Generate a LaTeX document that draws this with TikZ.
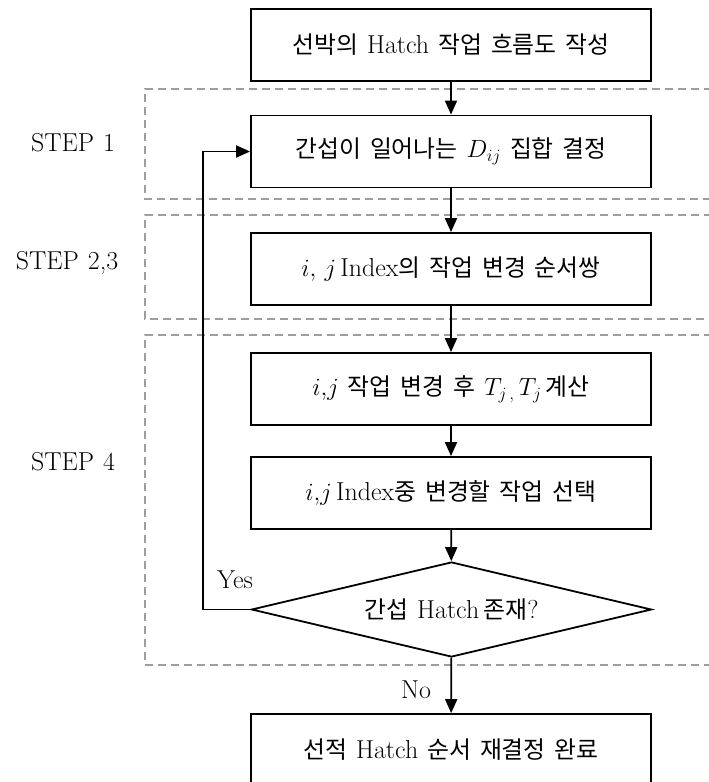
\documentclass[tikz,border=0pt]{standalone}
\usepackage{fontspec}
\newfontfamily\hangul{Noto Sans CJK KR}[Scale=0.92]
\usetikzlibrary{arrows.meta,shapes.geometric}
% wider word spacing for the labels
\newcommand{\widegaps}{\spaceskip 9bp plus 0bp\relax}

\begin{document}
\begin{tikzpicture}[x=1bp,y=-1bp,
  txt/.style={font=\fontsize{26}{30}\selectfont\widegaps},
  stepbox/.style={txt, draw, line width=1.8bp, minimum width=400bp,
    minimum height=72bp, inner sep=0pt, fill=white},
  decision/.style={txt, draw, diamond, line width=1.8bp, aspect=4,
    minimum width=400bp, minimum height=95bp, inner sep=0pt, fill=white},
  flow/.style={line width=1.8bp, -{Triangle[width=12bp,length=14bp]}},
  zone/.style={draw=black!38, line width=1.5bp, dash pattern=on 8bp off 5bp},
  steplabel/.style={txt, inner sep=0pt}]
\useasboundingbox (0,0) rectangle (709,782);

% dashed step regions, open to the right
\draw[zone] (712,89) -- (145,89) -- (145,199) -- (712,199);
\draw[zone] (712,215) -- (145,215) -- (145,319) -- (712,319);
\draw[zone] (712,335) -- (145,335) -- (145,665) -- (712,665);

\node[steplabel] (s1) at (73,143) {STEP 1};
\node[steplabel] (s23) at (67,263) {STEP 2,3};
\node[steplabel] (s4) at (73,462) {STEP 4};

% process boxes
\node[stepbox] (b1) at (451,45) {{\hangul 선박의} Hatch {\hangul 작업 흐름도 작성}};
\node[stepbox] (b2) at (451,151.5) {{\hangul 간섭이 일어나는} $D_{ij}$ {\hangul 집합 결정}};
\node[stepbox] (b3) at (451,269) {$i,\,j$\,Index{\hangul 의 작업 변경 순서쌍}};
\node[stepbox] (b4) at (451,389) {$i{,}j$ {\hangul 작업 변경 후} $T_{j\,,}\,T_j$\,{\hangul 계산}};
\node[stepbox] (b5) at (451,493) {$i{,}j$\,Index{\hangul 중 변경할 작업 선택}};
\node[decision] (d) at (451.5,609.5) {{\hangul 간섭} Hatch\,{\hangul 존재}?};
\node[stepbox] (b6) at (451,750) {{\hangul 선적} Hatch {\hangul 순서 재결정 완료}};

% connectors
\draw[flow] (b1) -- (b2);
\draw[flow] (b2) -- (b3);
\draw[flow] (b3) -- (b4);
\draw[flow] (b4) -- (b5);
\draw[flow] (b5) -- (d);
\draw[flow] (d) -- (b6);
\coordinate (turn) at (203,609.5);
\draw[flow] (d.west) -- (turn) |- (b2.west);

\node[steplabel] (yes) at (235,580) {Yes};
\node[steplabel] (no) at (416,690) {No};
\end{tikzpicture}
\end{document}
